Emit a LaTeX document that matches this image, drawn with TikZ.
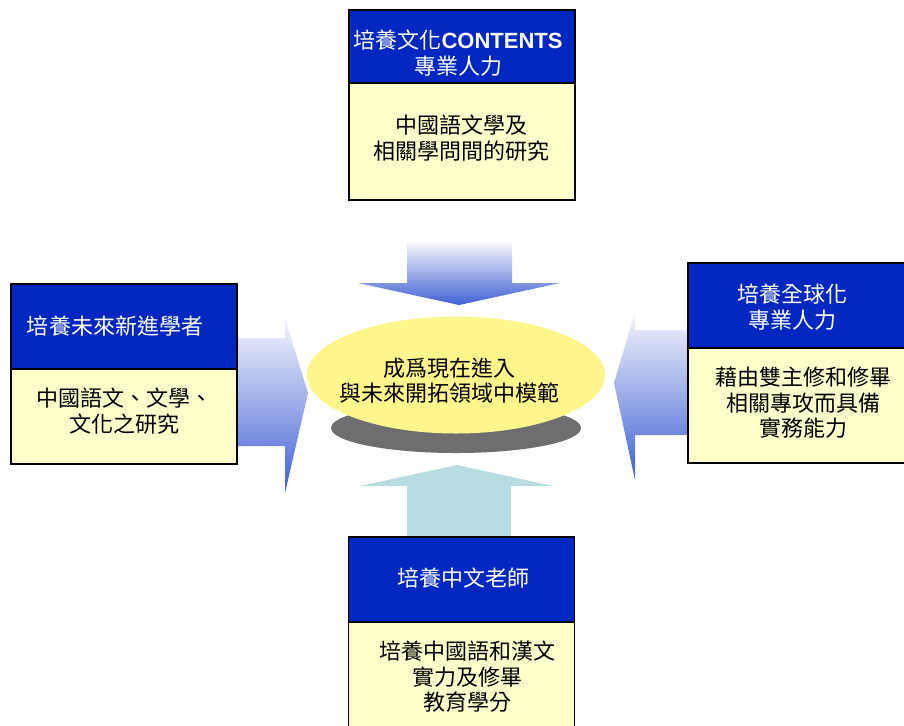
\documentclass[tikz,border=0pt]{standalone}
\usepackage{fontspec}
\setmainfont{Noto Sans CJK TC}
\newfontfamily\latinb{Liberation Sans}
\usetikzlibrary{shapes.geometric}
\definecolor{hdrblue}{RGB}{0,40,192}
\definecolor{bodyyel}{RGB}{255,255,204}
\definecolor{ellyel}{RGB}{255,246,140}
\definecolor{arrlight}{RGB}{246,246,252}
\definecolor{arrblue}{RGB}{62,96,212}
\definecolor{arrteal}{RGB}{183,221,226}
\definecolor{shadowgray}{RGB}{110,110,110}
\tikzset{
  hdrbox/.style={draw=black, line width=1.4pt, fill=hdrblue, minimum width=226pt, inner sep=0pt},
  bodybox/.style={draw=black, line width=1.4pt, fill=bodyyel, minimum width=226pt, inner sep=0pt},
  hdrtxt/.style={text=white, align=center, inner sep=0pt, font=\fontsize{22}{26}\selectfont},
  bodytxt/.style={text=black, align=center, inner sep=0pt, font=\fontsize{22}{25.5}\selectfont},
  arrgrad/.style={top color=arrlight, bottom color=arrblue}
}
\begin{document}
\begin{tikzpicture}[x=1pt,y=-1pt]
\useasboundingbox[fill=white] (0,0) rectangle (904,725);
% block arrows
\shade[arrgrad] (407,243) -- (512,243) -- (512,283) -- (560,283) -- (459,305) -- (358,283) -- (407,283) -- cycle;
\fill[arrteal] (407,540) -- (407,486) -- (360,486) -- (457,465) -- (553,486) -- (511,486) -- (511,540) -- cycle;
\shade[arrgrad] (235,338) -- (285,338) -- (285,318) -- (308,393) -- (285,493) -- (285,446) -- (235,446) -- cycle;
\shade[arrgrad] (690,330) -- (635,330) -- (635,312) -- (614,383) -- (635,480) -- (635,435) -- (690,435) -- cycle;
% boxes
\node[hdrbox, minimum height=73pt] (tophdr) at (462,46.5) {};
\node[bodybox, minimum height=117pt] (topbody) at (462,141.5) {};
\node[hdrbox, minimum height=85pt] (lefthdr) at (124,326.5) {};
\node[bodybox, minimum height=95pt] (leftbody) at (124,416.5) {};
\node[hdrbox, minimum height=85pt] (righthdr) at (801,305.5) {};
\node[bodybox, minimum height=115pt] (rightbody) at (801,405.5) {};
\node[hdrbox, minimum height=85pt] (bothdr) at (461.5,579.5) {};
\node[bodybox, minimum height=123pt] (botbody) at (461.5,683.5) {};
% central ellipse
\fill[shadowgray] (456,428) ellipse [x radius=125, y radius=25];
\node[ellipse, fill=ellyel, minimum width=298pt, minimum height=117pt, inner sep=0pt] (goal) at (456,375) {};
% texts
\node[hdrtxt] (toptitle) at (458,53) {培養文化{\latinb\bfseries CONTENTS}\\專業人力};
\node[bodytxt] (toptext) at (461,138) {中國語文學及\\相關學問間的研究};
\node[hdrtxt] (lefttitle) at (115,326) {培養未來新進學者};
\node[bodytxt] (lefttext) at (124,411) {中國語文、文學、\\文化之研究};
\node[hdrtxt] (righttitle) at (792,307.5) {培養全球化\\專業人力};
\node[bodytxt] (righttext) at (803,403) {藉由雙主修和修畢\\相關專攻而具備\\實務能力};
\node[hdrtxt] (bottitle) at (463,578) {培養中文老師};
\node[bodytxt] (bottext) at (467,677) {培養中國語和漢文\\實力及修畢\\教育學分};
\node[bodytxt] (goaltext) at (449,380.5) {成爲現在進入\\與未來開拓領域中模範};
\end{tikzpicture}
\end{document}
